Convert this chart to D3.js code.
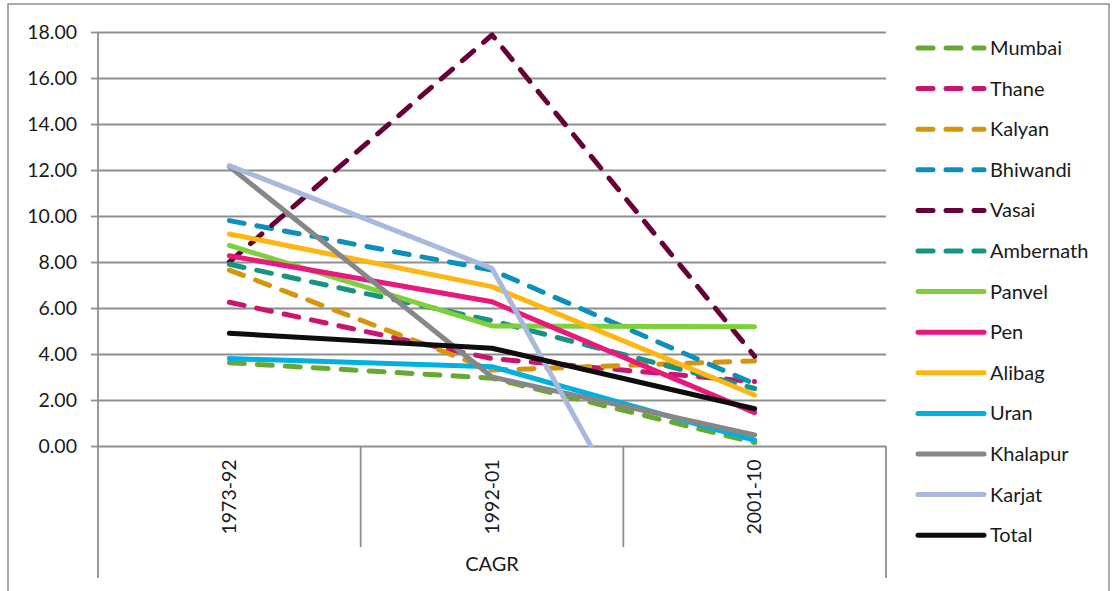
<!doctype html>
<html>
    <head>
        <script src="https://d3js.org/d3.v7.min.js"></script>
        <style>
            body { margin: 0; background: #fff; }
            text { font-family: Lato, "Noto Sans", sans-serif; fill: #1a1a1a; }
            .domain { display: none; }
        </style>
    </head>
    <body>
        <svg id="chart" width="1114" height="591"></svg>
        <script>
            // CAGR values
            var periods = ["1973-92", "1992-01", "2001-10"];
            var yTicks = [0, 2, 4, 6, 8, 10, 12, 14, 16, 18];
            var axisTitle = "CAGR";

            var Mumbai    = [3.62, 2.95, 0.15];
            var Thane     = [6.25, 3.80, 2.80];
            var Kalyan    = [7.65, 3.30, 3.70];
            var Bhiwandi  = [9.80, 7.65, 2.70];
            var Vasai     = [8.00, 17.87, 3.90];
            var Ambernath = [7.90, 5.45, 2.50];
            var Panvel    = [8.72, 5.22, 5.18];
            var Pen       = [8.27, 6.27, 1.45];
            var Alibag    = [9.22, 6.93, 2.22];
            var Uran      = [3.80, 3.45, 0.25];
            var Khalapur  = [12.15, 3.00, 0.48];
            var Karjat    = [12.19, 7.72, -12.8];
            var Total     = [4.90, 4.25, 1.62];

            var series = [
                {name: "Mumbai",    values: Mumbai,    color: "#67a930", dash: true},
                {name: "Thane",     values: Thane,     color: "#c8156e", dash: true},
                {name: "Kalyan",    values: Kalyan,    color: "#d4960c", dash: true},
                {name: "Bhiwandi",  values: Bhiwandi,  color: "#0b90bb", dash: true},
                {name: "Vasai",     values: Vasai,     color: "#660036", dash: true},
                {name: "Ambernath", values: Ambernath, color: "#169382", dash: true},
                {name: "Panvel",    values: Panvel,    color: "#7ecf3b", dash: false},
                {name: "Pen",       values: Pen,       color: "#e9197b", dash: false},
                {name: "Alibag",    values: Alibag,    color: "#ffb612", dash: false},
                {name: "Uran",      values: Uran,      color: "#00b0e0", dash: false},
                {name: "Khalapur",  values: Khalapur,  color: "#878787", dash: false},
                {name: "Karjat",    values: Karjat,    color: "#a9b9de", dash: false},
                {name: "Total",     values: Total,     color: "#0d0d0d", dash: false}
            ];

            drawChart();

            function drawChart() {
                var svg = d3.select("#chart");
                var left = 98, right = 886, plotTop = 32, plotBottom = 446;
                var grey = "#8e8e8e";

                // outer chart border
                svg.append("rect")
                    .attr("x", 8).attr("y", 4)
                    .attr("width", 1101).attr("height", 620)
                    .attr("fill", "none").attr("stroke", grey).attr("stroke-width", 1.5);

                var xScale = d3.scaleBand().domain(periods).range([left, right]);
                var yScale = d3.scaleLinear().domain([0, 18]).range([plotBottom, plotTop]);

                // gridlines
                var grid = d3.axisLeft(yScale).tickValues(yTicks).tickSize(-(right - left)).tickFormat("");
                svg.append("g").attr("transform", "translate(" + left + ",0)").call(grid)
                    .selectAll("line").attr("stroke", grey).attr("stroke-width", 1.8);

                // y axis with labels
                var yAxis = d3.axisLeft(yScale)
                    .tickValues(yTicks)
                    .tickSize(7)
                    .tickPadding(14)
                    .tickFormat(d3.format(".2f"));
                var yG = svg.append("g").attr("transform", "translate(" + left + ",0)").call(yAxis);
                yG.selectAll("line").attr("stroke", grey).attr("stroke-width", 1.8);
                yG.selectAll("text").style("font-size", "19.5px").style("font-family", "Lato").attr("fill", "#1a1a1a");

                // vertical axis line, extended below into the category table
                svg.append("line")
                    .attr("x1", left).attr("x2", left).attr("y1", plotTop).attr("y2", 578)
                    .attr("stroke", grey).attr("stroke-width", 1.8);
                svg.append("line")
                    .attr("x1", right).attr("x2", right).attr("y1", plotBottom).attr("y2", 578)
                    .attr("stroke", grey).attr("stroke-width", 1.8);

                // category separators
                svg.selectAll("line.sep")
                    .data(periods.slice(1))
                    .enter()
                    .append("line")
                        .attr("class", "sep")
                        .attr("x1", d => xScale(d)).attr("x2", d => xScale(d))
                        .attr("y1", plotBottom).attr("y2", 547)
                        .attr("stroke", grey).attr("stroke-width", 1.8);

                // category labels (rotated)
                svg.selectAll("text.cat")
                    .data(periods)
                    .enter()
                    .append("text")
                        .attr("class", "cat")
                        .attr("transform", d => "translate(" + (xScale(d) + xScale.bandwidth() / 2) + ",497) rotate(-90)")
                        .attr("text-anchor", "middle")
                        .attr("dy", "0.35em")
                        .style("font-size", "19.5px")
                        .text(d => d);

                svg.append("text")
                    .attr("x", (left + right) / 2).attr("y", 564)
                    .attr("text-anchor", "middle").attr("dy", "0.35em")
                    .style("font-size", "20px")
                    .text(axisTitle);

                // lines, clipped to the plot area like Excel does
                svg.append("clipPath").attr("id", "plotClip")
                    .append("rect").attr("x", left).attr("y", 0)
                    .attr("width", right - left).attr("height", plotBottom + 1);

                var line = d3.line()
                    .x((d, i) => xScale(periods[i]) + xScale.bandwidth() / 2)
                    .y(d => yScale(d));

                svg.append("g").attr("clip-path", "url(#plotClip)")
                    .selectAll("path.series")
                    .data(series)
                    .enter()
                    .append("path")
                        .attr("class", "series")
                        .attr("d", d => line(d.values))
                        .attr("fill", "none")
                        .attr("stroke", d => d.color)
                        .attr("stroke-width", 5)
                        .attr("stroke-linejoin", "round")
                        .attr("stroke-linecap", "round")
                        .attr("stroke-dasharray", d => d.dash ? "15,13" : null);

                // legend
                var legend = svg.selectAll("g.legend")
                    .data(series)
                    .enter()
                    .append("g")
                        .attr("class", "legend")
                        .attr("transform", (d, i) => "translate(918," + (48 + i * 40.6) + ")");

                legend.append("line")
                    .attr("x1", 0).attr("x2", 66)
                    .attr("stroke", d => d.color)
                    .attr("stroke-width", 5)
                    .attr("stroke-linecap", "round")
                    .attr("stroke-dasharray", d => d.dash ? "15,13" : null);

                legend.append("text")
                    .attr("x", 72).attr("dy", "0.35em")
                    .style("font-size", "20px")
                    .text(d => d.name);
            }
        </script>
    </body>
</html>
